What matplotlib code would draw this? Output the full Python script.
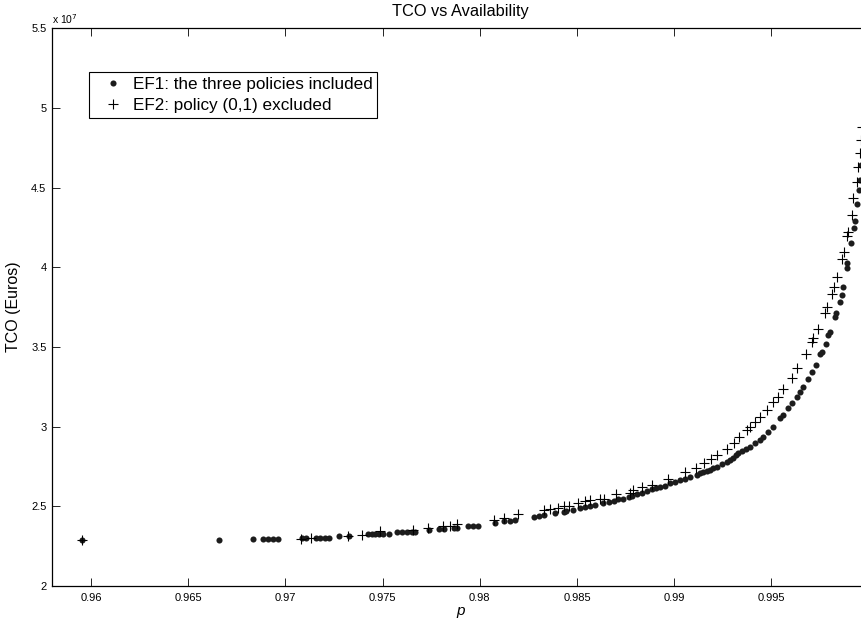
import matplotlib
matplotlib.use("Agg")
import matplotlib.pyplot as plt
from matplotlib.ticker import FuncFormatter

plt.rcParams['font.family'] = ['Liberation Sans', 'DejaVu Sans']

# EF1: the three policies included (p, TCO in units of 1e7 Euros)
ef1_p = [0.95956, 0.96658, 0.96836, 0.96886, 0.96912, 0.96937, 0.96961,
         0.97086, 0.97108, 0.97160, 0.97180, 0.97202, 0.97227, 0.97278, 0.97326,
         0.97425, 0.97446, 0.97463, 0.97480, 0.97503, 0.97531,
         0.97575, 0.97600, 0.97626, 0.97652, 0.97669, 0.97737,
         0.97788, 0.97814, 0.97865, 0.97883, 0.97941, 0.97967, 0.97992,
         0.98080, 0.98122, 0.98153, 0.98182, 0.98277, 0.98302, 0.98328,
         0.98388, 0.98431, 0.98445, 0.98477, 0.98516, 0.98542, 0.98568, 0.98594,
         0.98636, 0.98662, 0.98688, 0.98713, 0.98739, 0.98765,
         0.98782, 0.98808, 0.98834, 0.98859, 0.98885, 0.98907, 0.98928, 0.98953,
         0.98979, 0.99005, 0.99030, 0.99056, 0.99082, 0.99116, 0.99133, 0.99150,
         0.99168, 0.99184, 0.99201, 0.99219, 0.99245, 0.99270, 0.99287, 0.99304,
         0.99318, 0.99330, 0.99349, 0.99369, 0.99390, 0.99416, 0.99441, 0.99458,
         0.99484, 0.99510, 0.99544, 0.99561, 0.99587, 0.99604, 0.99630, 0.99647,
         0.99661, 0.99690, 0.99707, 0.99729, 0.99750, 0.99758, 0.99779, 0.99792,
         0.99801, 0.99827, 0.99832, 0.99853, 0.99861, 0.99869, 0.99887, 0.99890,
         0.99907, 0.99924, 0.99930, 0.99938, 0.99952, 0.99955, 0.99960]
ef1_tco = [2.287, 2.287, 2.295, 2.295, 2.295, 2.295, 2.295,
           2.299, 2.299, 2.303, 2.303, 2.303, 2.303, 2.312, 2.312,
           2.325, 2.325, 2.325, 2.326, 2.326, 2.328,
           2.337, 2.337, 2.339, 2.341, 2.342, 2.352,
           2.358, 2.360, 2.364, 2.364, 2.375, 2.377, 2.377,
           2.394, 2.410, 2.411, 2.414, 2.435, 2.439, 2.444,
           2.456, 2.465, 2.468, 2.477, 2.488, 2.493, 2.499, 2.508,
           2.519, 2.527, 2.534, 2.543, 2.549, 2.557,
           2.567, 2.576, 2.586, 2.596, 2.607, 2.613, 2.621, 2.628,
           2.645, 2.655, 2.665, 2.674, 2.682, 2.697, 2.707, 2.718,
           2.722, 2.728, 2.739, 2.749, 2.766, 2.780, 2.793, 2.805,
           2.819, 2.833, 2.847, 2.860, 2.874, 2.896, 2.917, 2.933,
           2.969, 3.000, 3.053, 3.073, 3.115, 3.147, 3.188, 3.220,
           3.251, 3.298, 3.345, 3.387, 3.456, 3.471, 3.519, 3.576,
           3.596, 3.691, 3.712, 3.785, 3.827, 3.879, 3.994, 4.026,
           4.151, 4.245, 4.293, 4.398, 4.486, 4.549, 4.643]

# EF2: policy (0,1) excluded
ef2_p = [0.95956, 0.97083, 0.97134, 0.97324, 0.97396, 0.97489, 0.97657,
         0.97734, 0.97809, 0.97848, 0.97883, 0.98071, 0.98122, 0.98199,
         0.98328, 0.98362, 0.98400, 0.98431, 0.98461, 0.98503, 0.98542,
         0.98568, 0.98619, 0.98641, 0.98700, 0.98770, 0.98790, 0.98834,
         0.98885, 0.98970, 0.99056, 0.99113, 0.99154, 0.99188, 0.99222,
         0.99270, 0.99309, 0.99335, 0.99373, 0.99390, 0.99416, 0.99441,
         0.99476, 0.99510, 0.99535, 0.99561, 0.99604, 0.99630, 0.99678,
         0.99707, 0.99715, 0.99741, 0.99775, 0.99787, 0.99810, 0.99822,
         0.99839, 0.99864, 0.99875, 0.99887, 0.99892, 0.99913, 0.99921,
         0.99938, 0.99947, 0.99955, 0.99958, 0.99963]
ef2_tco = [2.287, 2.298, 2.301, 2.314, 2.320, 2.343, 2.352,
           2.366, 2.377, 2.379, 2.387, 2.414, 2.429, 2.450,
           2.477, 2.481, 2.492, 2.502, 2.505, 2.519, 2.534,
           2.537, 2.548, 2.548, 2.576, 2.586, 2.603, 2.620,
           2.634, 2.670, 2.718, 2.743, 2.774, 2.795, 2.822,
           2.860, 2.900, 2.933, 2.979, 3.000, 3.031, 3.063,
           3.105, 3.157, 3.188, 3.235, 3.308, 3.367, 3.456,
           3.534, 3.559, 3.611, 3.712, 3.750, 3.831, 3.875,
           3.938, 4.051, 4.099, 4.197, 4.224, 4.329, 4.434,
           4.538, 4.632, 4.716, 4.800, 4.883]

SCALE = 1e7
x_ticks = [0.96, 0.965, 0.97, 0.975, 0.98, 0.985, 0.99, 0.995]
y_ticks = [2, 2.5, 3, 3.5, 4, 4.5, 5, 5.5]

fig = plt.figure(figsize=(8.62, 6.28), dpi=100)
# axes extends slightly past the right edge (as in the cropped reference)
ax = fig.add_axes([52/862, 42/628, 816.7/862, 557.7/628])

ax.plot(ef1_p, [v * SCALE for v in ef1_tco], linestyle='none', marker='o',
        markersize=4.4, color='#1c1c1c', markeredgewidth=0,
        label='EF1: the three policies included')
ax.plot(ef2_p, [v * SCALE for v in ef2_tco], linestyle='none', marker='+',
        markersize=6.5, color='black', markeredgewidth=0.8,
        label='EF2: policy (0,1) excluded')

ax.set_xlim(0.958, 1.0)
ax.set_ylim(2 * SCALE, 5.5 * SCALE)
ax.set_xticks(x_ticks)
ax.set_yticks([v * SCALE for v in y_ticks])
ax.xaxis.set_major_formatter(FuncFormatter(lambda v, pos: ('%g' % round(v, 4))))
ax.yaxis.set_major_formatter(FuncFormatter(lambda v, pos: ('%g' % round(v / SCALE, 3))))
ax.tick_params(direction='in', length=5.8, width=0.6, top=True, right=True,
               labelsize=8, pad=4, colors='black')
ax.tick_params(axis='x', pad=5)
for s in ax.spines.values():
    s.set_linewidth(0.9)

ax.text(0.0, 1.004, r'x 10$^{7}$', transform=ax.transAxes, fontsize=7.5,
        ha='left', va='bottom')

ax.set_title('TCO vs Availability', fontsize=11.8, pad=9)
ax.set_xlabel('p', fontsize=11, style='italic', labelpad=1)
ax.set_ylabel('TCO (Euros)', fontsize=11.5, labelpad=7)

leg = ax.legend(loc='upper left', bbox_to_anchor=(0.0453, 0.922), borderaxespad=0,
                fancybox=False, edgecolor='black', fontsize=12.3, handlelength=2.2,
                handletextpad=0.05, borderpad=0.3, labelspacing=0.33, framealpha=1)
leg.get_frame().set_linewidth(0.8)

fig.savefig('out.png', dpi=100)
